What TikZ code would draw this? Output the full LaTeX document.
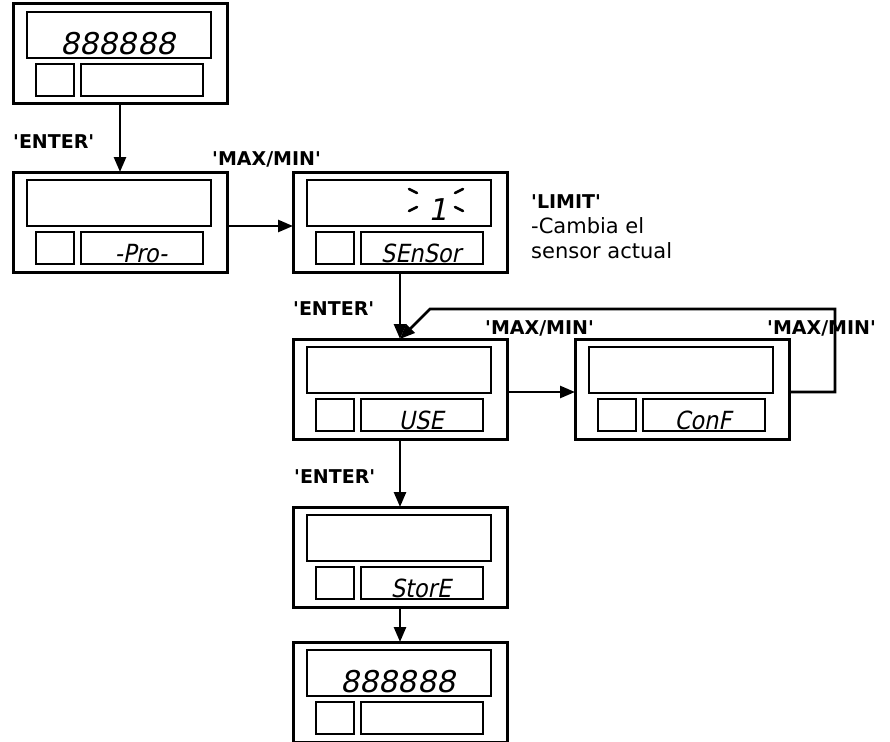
\documentclass[tikz,border=0pt]{standalone}
\usepackage{fontspec}
\setmainfont{DejaVu Sans}[Ligatures=TeXOff]
\newfontfamily\segfont{DejaVuSansCondensed.ttf}[FakeSlant=0.2]
\newfontfamily\bigsegfont{DejaVu Sans}[FakeSlant=0.2]
\usetikzlibrary{arrows.meta,calc}
\newcommand\panelparts[1]{%
  \draw[part] ([shift={(14,8)}]#1.north west) rectangle ([shift={(198,54)}]#1.north west);
  \draw[part] ([shift={(23,60)}]#1.north west) rectangle ([shift={(61,92)}]#1.north west);
  \draw[part] ([shift={(68,60)}]#1.north west) rectangle ([shift={(190,92)}]#1.north west);}
\begin{document}
\begin{tikzpicture}[x=1pt,y=-1pt,
  panel/.style={draw,line width=3pt,minimum width=214pt,minimum height=100pt,inner sep=0pt,outer sep=0pt,anchor=north west},
  part/.style={line width=2.8pt},
  flow/.style={line width=2.6pt,-{Triangle[length=15pt,width=12pt]}},
  key/.style={font=\bfseries\fontsize{19}{22}\selectfont,inner sep=0pt,anchor=base west},
  desc/.style={font=\fontsize{21}{25}\selectfont,inner sep=0pt,anchor=base west},
  seg/.style={font=\segfont\fontsize{25}{28}\selectfont,inner sep=0pt,anchor=base},
  bigseg/.style={font=\bigsegfont\fontsize{30}{34}\selectfont,inner sep=0pt,anchor=base},
  blink/.style={line width=2.6pt,line cap=round}]
\useasboundingbox (0,0) rectangle (890,741);
\clip (0,0) rectangle (890,741);
\fill[white] (0,0) rectangle (890,741);

% panels
\node[panel] (b1) at (13,4) {};
\node[panel] (b2) at (13,172) {};
\node[panel] (b3) at (293,172) {};
\node[panel] (b4) at (293,339) {};
\node[panel] (b5) at (575,339) {};
\node[panel] (b6) at (293,507) {};
\node[panel] (b7) at (293,642) {};
\panelparts{b1}\panelparts{b2}\panelparts{b3}\panelparts{b4}
\panelparts{b5}\panelparts{b6}\panelparts{b7}

% display texts
\node[bigseg] (t1) at ([shift={(105,51)}]b1.north west) {888888};
\node[seg] (t2) at ([shift={(128,90)}]b2.north west) {-Pro-};
\node[seg] (t3) at ([shift={(128,90)}]b3.north west) {SEnSor};
\node[seg] (t4) at ([shift={(128,90)}]b4.north west) {USE};
\node[seg] (t5) at ([shift={(128,90)}]b5.north west) {ConF};
\node[seg] (t6) at ([shift={(128,90)}]b6.north west) {StorE};
\node[bigseg] (t7) at ([shift={(105,50)}]b7.north west) {888888};
\node[bigseg] (one) at (438,220) {1};
\draw[blink] (409,189) -- (417,193);
\draw[blink] (409,211) -- (417,207);
\draw[blink] (455,193) -- (463,189);
\draw[blink] (455,207) -- (463,211);

% labels
\node[key] (e1) at (13,148) {'ENTER'};
\node[key] (m1) at (212,165) {'MAX/MIN'};
\node[key] (lim) at (531,208) {'LIMIT'};
\node[desc] (d1) at (531,233) {-Cambia el};
\node[desc] (d2) at (531,258) {sensor actual};
\node[key] (e2) at (293,315) {'ENTER'};
\node[key] (m2) at (485,334) {'MAX/MIN'};
\node[key] (m3) at (767,334) {'MAX/MIN'};
\node[key] (e3) at (294,483) {'ENTER'};

% connectors
\coordinate (lr) at (835,309);
\coordinate (ll) at (430,309);
\draw[flow] (b1.south) -- (b2.north);
\draw[flow] ([shift={(0,54)}]b2.north east) -- ([shift={(0,54)}]b3.north west);
\draw[flow] (b3.south) -- (b4.north);
\draw[flow] ([shift={(0,53)}]b4.north east) -- ([shift={(0,53)}]b5.north west);
\draw[flow] ([shift={(0,53)}]b5.north east) -| (lr) -- (ll) -- (b4.north);
\draw[flow] (b4.south) -- (b6.north);
\draw[flow] (b6.south) -- (b7.north);
\end{tikzpicture}
\end{document}
